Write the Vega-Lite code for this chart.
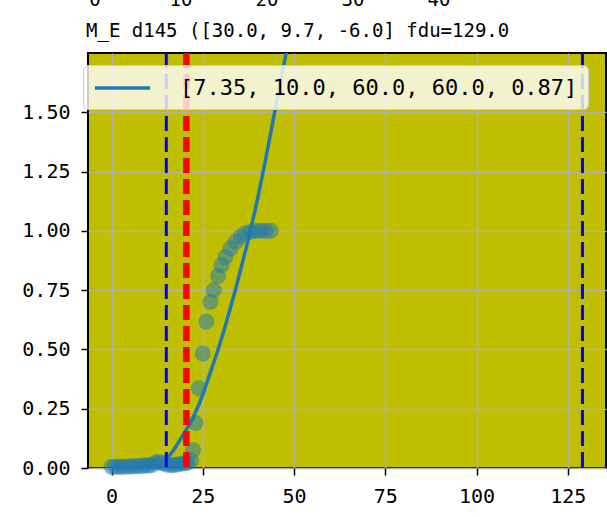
{
  "$schema": "https://vega.github.io/schema/vega-lite/v6.json",
  "width": 518,
  "height": 415,
  "autosize": {"type": "none"},
  "padding": {"left": 88, "top": 53, "right": 1, "bottom": 49},
  "background": "white",
  "title": {
    "text": "M_E d145 ([30.0, 9.7, -6.0] fdu=129.0",
    "anchor": "start",
    "frame": "group",
    "dx": -2,
    "offset": -65,
    "baseline": "alphabetic",
    "font": "DejaVu Sans Mono",
    "fontSize": 19,
    "fontWeight": "normal",
    "color": "black"
  },
  "config": {
    "view": {"fill": "#bfbf00", "stroke": "black", "strokeWidth": 2},
    "axis": {
      "labelFont": "DejaVu Sans Mono",
      "labelFontSize": 20,
      "labelColor": "black",
      "tickColor": "black",
      "tickSize": 7,
      "tickWidth": 1.5,
      "domain": false,
      "gridColor": "#b0b0b0",
      "gridWidth": 1.6,
      "gridOpacity": 1,
      "title": null,
      "labelFlush": false,
      "labelOverlap": false
    }
  },
  "datasets": {
    "obs": [
      {"day": 0, "frac": 0.005}, {"day": 1, "frac": 0.005}, {"day": 2, "frac": 0.005},
      {"day": 3, "frac": 0.005}, {"day": 4, "frac": 0.006}, {"day": 5, "frac": 0.006},
      {"day": 6, "frac": 0.007}, {"day": 7, "frac": 0.008}, {"day": 8, "frac": 0.008},
      {"day": 9, "frac": 0.01}, {"day": 10, "frac": 0.01}, {"day": 11, "frac": 0.012},
      {"day": 12, "frac": 0.022}, {"day": 13, "frac": 0.025}, {"day": 14, "frac": 0.02},
      {"day": 15, "frac": 0.015}, {"day": 16, "frac": 0.012}, {"day": 17, "frac": 0.012},
      {"day": 18, "frac": 0.015}, {"day": 19, "frac": 0.018}, {"day": 20, "frac": 0.02},
      {"day": 20.8, "frac": 0.022}, {"day": 21.7, "frac": 0.03}, {"day": 22.3, "frac": 0.075},
      {"day": 23.0, "frac": 0.19}, {"day": 23.9, "frac": 0.336}, {"day": 25.0, "frac": 0.483},
      {"day": 26.0, "frac": 0.617}, {"day": 27.1, "frac": 0.70}, {"day": 28.0, "frac": 0.75},
      {"day": 29.2, "frac": 0.81}, {"day": 30.1, "frac": 0.855}, {"day": 31.2, "frac": 0.89},
      {"day": 32.6, "frac": 0.926}, {"day": 34.0, "frac": 0.954}, {"day": 35.4, "frac": 0.975},
      {"day": 36.7, "frac": 0.99}, {"day": 38.1, "frac": 0.996}, {"day": 39.5, "frac": 1.0},
      {"day": 40.8, "frac": 1.0}, {"day": 42.2, "frac": 1.0}, {"day": 43.6, "frac": 1.0}
    ],
    "fit": [
      {"day": 0, "frac": 0.0}, {"day": 14.9, "frac": 0.0}, {"day": 15, "frac": 0.03},
      {"day": 16, "frac": 0.055}, {"day": 17, "frac": 0.075}, {"day": 18, "frac": 0.1},
      {"day": 19, "frac": 0.125}, {"day": 20, "frac": 0.15}, {"day": 21, "frac": 0.175},
      {"day": 22, "frac": 0.2}, {"day": 23, "frac": 0.235}, {"day": 24, "frac": 0.27},
      {"day": 25, "frac": 0.31}, {"day": 26, "frac": 0.355}, {"day": 27, "frac": 0.4},
      {"day": 28, "frac": 0.445}, {"day": 29, "frac": 0.49}, {"day": 30, "frac": 0.54},
      {"day": 31, "frac": 0.59}, {"day": 32, "frac": 0.645}, {"day": 33, "frac": 0.7},
      {"day": 34, "frac": 0.755}, {"day": 35, "frac": 0.815}, {"day": 36, "frac": 0.875},
      {"day": 37, "frac": 0.935}, {"day": 38, "frac": 1.0}, {"day": 39, "frac": 1.065},
      {"day": 40, "frac": 1.135}, {"day": 41, "frac": 1.21}, {"day": 42, "frac": 1.285},
      {"day": 43, "frac": 1.365}, {"day": 44, "frac": 1.445}, {"day": 45, "frac": 1.525},
      {"day": 46, "frac": 1.605}, {"day": 47, "frac": 1.685}, {"day": 48, "frac": 1.765},
      {"day": 49, "frac": 1.845}
    ],
    "vlines": [
      {"day": 15, "kind": "lag"}, {"day": 129, "kind": "fdu"}, {"day": 20.5, "kind": "mark"}
    ],
    "toplabels": [
      {"v": 0}, {"v": 10}, {"v": 20}, {"v": 30}, {"v": 40}
    ]
  },
  "resolve": {"scale": {"x": "independent"}},
  "layer": [
    {
      "layer": [
        {
          "data": {"name": "obs"},
          "mark": {"type": "circle", "size": 260, "opacity": 0.5, "color": "#1f77b4"},
          "encoding": {
            "x": {
              "field": "day", "type": "quantitative",
              "scale": {"domain": [-6.45, 135.45], "nice": false, "zero": false},
              "axis": {"values": [0, 25, 50, 75, 100, 125], "format": "d", "labelPadding": 11}
            },
            "y": {
              "field": "frac", "type": "quantitative",
              "scale": {"domain": [0, 1.75], "nice": false, "zero": false},
              "axis": {"values": [0, 0.25, 0.5, 0.75, 1.0, 1.25, 1.5], "format": ".2f", "labelPadding": 11}
            }
          }
        },
        {
          "data": {"name": "fit"},
          "transform": [{"calculate": "'[7.35, 10.0, 60.0, 60.0, 0.87]'", "as": "series"}],
          "mark": {"type": "line", "strokeWidth": 3.5, "clip": true},
          "encoding": {
            "x": {"field": "day", "type": "quantitative"},
            "y": {"field": "frac", "type": "quantitative"},
            "color": {
              "field": "series", "type": "nominal",
              "scale": {"range": ["#1f77b4"]},
              "legend": {
                "title": null,
                "orient": "none",
                "legendX": -5,
                "legendY": 12,
                "symbolType": "M-1,0H4",
                "symbolSize": 484,
                "symbolStrokeWidth": 3.5,
                "labelFont": "DejaVu Sans Mono",
                "labelFontSize": 22,
                "labelColor": "black",
                "labelOffset": 61,
                "labelLimit": 0,
                "padding": 10,
                "fillColor": "rgba(255,255,255,0.8)",
                "strokeColor": "#cccccc",
                "cornerRadius": 5
              }
            }
          }
        },
        {
          "data": {"name": "vlines"},
          "transform": [{"filter": "datum.kind !== 'mark'"}],
          "mark": {"type": "rule", "color": "blue", "strokeWidth": 3, "strokeDash": [15, 6]},
          "encoding": {"x": {"field": "day", "type": "quantitative"}}
        },
        {
          "data": {"name": "vlines"},
          "transform": [{"filter": "datum.kind === 'mark'"}],
          "mark": {"type": "rule", "color": "red", "strokeWidth": 6.5, "strokeDash": [15, 6]},
          "encoding": {"x": {"field": "day", "type": "quantitative"}}
        }
      ]
    },
    {
      "data": {"name": "toplabels"},
      "mark": {"type": "text", "font": "DejaVu Sans Mono", "fontSize": 19, "baseline": "alphabetic", "align": "center", "color": "black", "clip": false},
      "encoding": {
        "x": {
          "field": "v", "type": "quantitative",
          "scale": {"domain": [-0.814, 59.42], "nice": false, "zero": false},
          "axis": null
        },
        "y": {"datum": 1.948, "type": "quantitative"},
        "text": {"field": "v", "type": "quantitative", "format": "d"}
      }
    }
  ]
}
